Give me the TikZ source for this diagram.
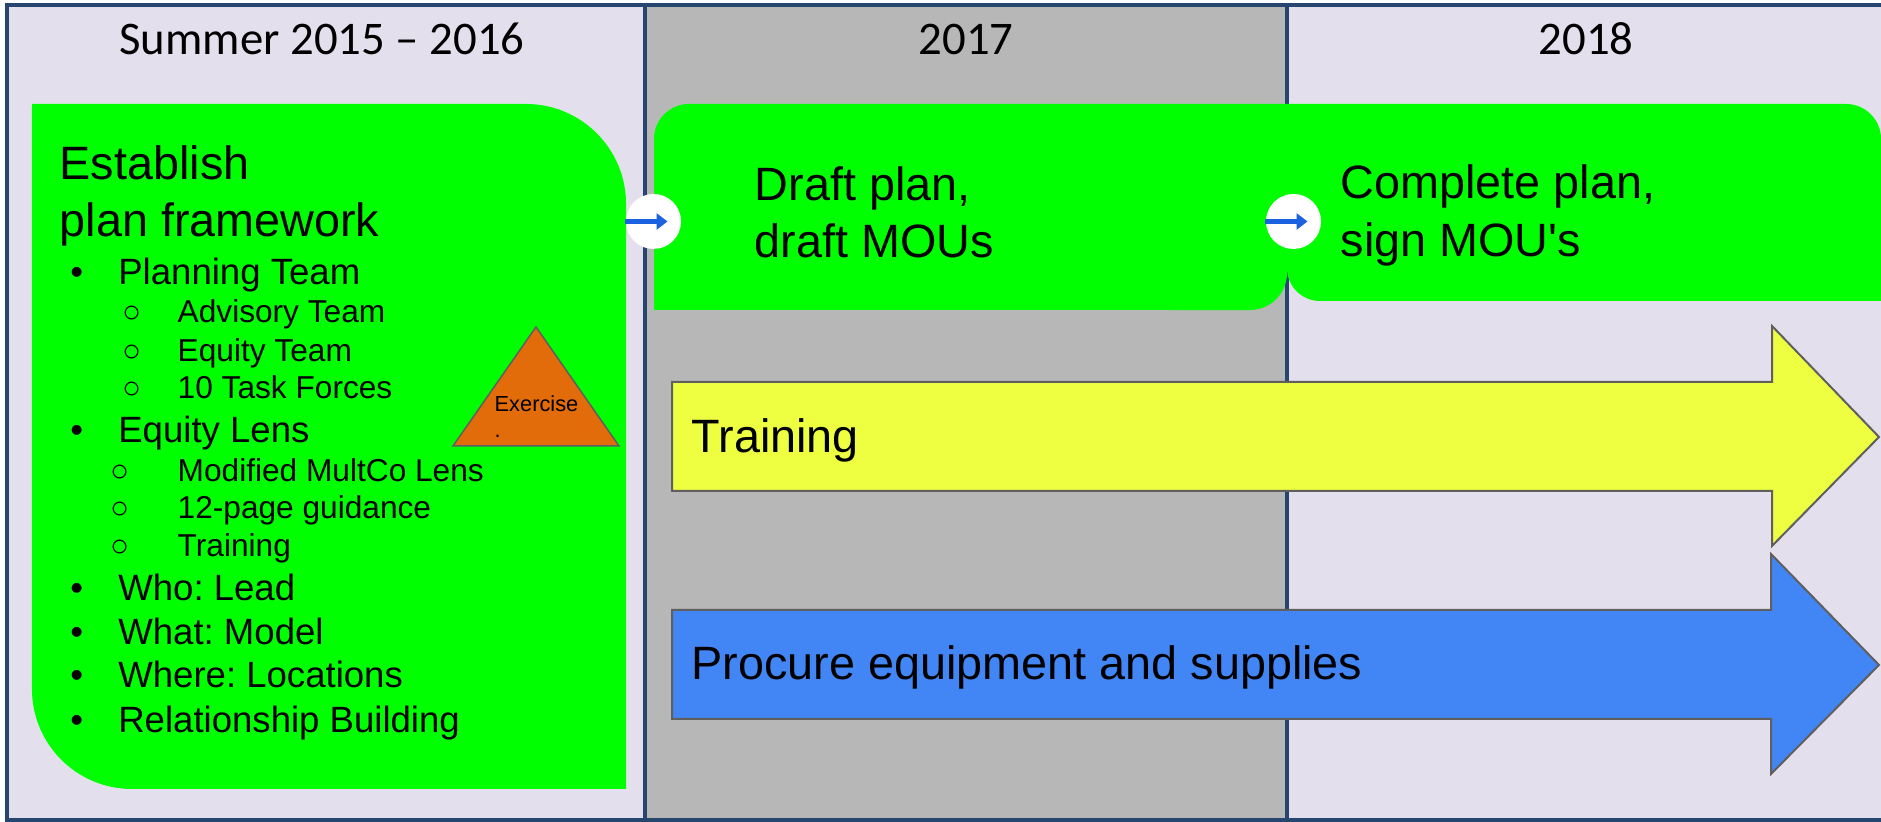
\documentclass[tikz,border=0pt]{standalone}
\usepackage{fontspec}
\setmainfont{Liberation Sans}
\newfontfamily\hdfont{Carlito}
\usepackage{xcolor}
\usepackage{tikz}
\usetikzlibrary{arrows.meta, positioning, calc}
\frenchspacing

\definecolor{lavbg}{HTML}{E4DFEC}
\definecolor{greybg}{HTML}{B7B7B7}
\definecolor{framenavy}{HTML}{264670}
\definecolor{stepgreen}{HTML}{00FF00}
\definecolor{trainyellow}{HTML}{EDFF40}
\definecolor{procblue}{HTML}{4285F4}
\definecolor{exorange}{HTML}{E36C0A}
\definecolor{edgegrey}{HTML}{5F5F5F}
\definecolor{linkblue}{HTML}{1A62DF}

\begin{document}
\begin{tikzpicture}[x=0.01cm, y=0.01cm,
    hdtxt/.style={font=\hdfont\fontsize{13.3}{16}\selectfont, anchor=base, inner sep=0},
    bigtxt/.style={font=\fontsize{13.3}{16}\selectfont, anchor=base west, inner sep=0},
    itemtxt/.style={font=\fontsize{10.4}{12}\selectfont, anchor=base west, inner sep=0,
        execute at begin node={\makebox[0.48cm][l]{•}}},
    subtxt/.style={font=\fontsize{9}{11}\selectfont, anchor=base west, inner sep=0,
        execute at begin node={\makebox[#1][l]{○}}},
    frameline/.style={draw=framenavy, line width=0.04cm},
    bigarrow/.style={draw=edgegrey, line width=0.02cm},
    joint/.style={circle, fill=white, minimum size=0.55cm, inner sep=0}]

        \useasboundingbox (0,0) rectangle (1881,822);
        \fill[white] (0,0) rectangle (1881,822);

        % Columns
        \fill[lavbg] (7,2) rectangle (645,817);
        \fill[greybg] (645,2) rectangle (1287,817);
        \fill[lavbg] (1287,2) rectangle (1881,817);
        \draw[frameline] (1881,817) -- (7,817) -- (7,2) -- (1881,2);
        \draw[frameline] (645,2) -- (645,817);
        \draw[frameline] (1287,2) -- (1287,817);

        \node[hdtxt] (hdsummer) at (322,767) {Summer 2015 – 2016};
        \node[hdtxt] (hdseventeen) at (966,767) {2017};
        \node[hdtxt] (hdeighteen) at (1586,767) {2018};

        % Plan stages
        \fill[stepgreen] (32,718) -- (526,718) arc[start angle=90, end angle=0, radius=1cm]
            -- (626,33) -- (132,33) arc[start angle=270, end angle=180, radius=1cm] -- cycle;
        \fill[stepgreen] (654,512) -- (654,683) arc[start angle=180, end angle=90, radius=0.35cm]
            -- (1287,718) -- (1287,549) arc[start angle=0, end angle=-90, radius=0.37cm] -- cycle;
        \fill[stepgreen] (1287,554) -- (1287,718) -- (1846,718) arc[start angle=90, end angle=0, radius=0.35cm]
            -- (1881,521) -- (1320,521) arc[start angle=270, end angle=180, radius=0.33cm] -- cycle;

        \node[bigtxt] (establish) at (59,642) {Establish};
        \node[bigtxt] (framework) at (59,585) {plan framework};
        \node[itemtxt] (planning) at (69.6,537) {Planning Team};
        \node[subtxt=0.555cm] (advisory) at (121.5,499) {Advisory Team};
        \node[subtxt=0.555cm] (equityteam) at (121.5,460) {Equity Team};
        \node[subtxt=0.555cm] (taskforces) at (121.5,423) {10 Task Forces};
        \node[itemtxt] (equitylens) at (69.6,379) {Equity Lens};
        \node[subtxt=0.675cm] (multco) at (109.5,340) {Modified MultCo Lens};
        \node[subtxt=0.675cm] (guidance) at (109.5,303) {12-page guidance};
        \node[subtxt=0.675cm] (lenstraining) at (109.5,265) {Training};
        \node[itemtxt] (who) at (69.6,221) {Who: Lead};
        \node[itemtxt] (what) at (69.6,177) {What: Model};
        \node[itemtxt] (where) at (69.6,134) {Where: Locations};
        \node[itemtxt] (relation) at (69.6,89) {Relationship Building};

        % Exercise marker
        \draw[fill=exorange, draw=edgegrey, line width=0.015cm] (453,376) -- (536,495) -- (619,376) -- cycle;
        \node[font=\fontsize{6.2}{7.4}\selectfont, align=left, anchor=north west, inner sep=0] (exercise) at (494,427) {Exercise\\.};

        \node[bigtxt] (draftplan) at (754,621) {Draft plan,};
        \node[bigtxt] (draftmou) at (754,564) {draft MOUs};
        \node[bigtxt] (completeplan) at (1340,623) {Complete plan,};
        \node[bigtxt] (signmou) at (1340,565) {sign MOU\textquotesingle s};

        % Links between stages
        \node[joint] (linkA) at (653.5,600.5) {};
        \node[joint] (linkB) at (1293.5,600.5) {};
        \draw[linkblue, line width=0.05cm, -{Triangle[length=0.11cm, width=0.16cm]}] (linkA.west) -- ([xshift=0.14cm]linkA.center);
        \draw[linkblue, line width=0.05cm, -{Triangle[length=0.11cm, width=0.16cm]}] (linkB.west) -- ([xshift=0.14cm]linkB.center);

        % Ongoing work
        \draw[bigarrow, fill=trainyellow] (672,331) -- (672,440) -- (1772,440) -- (1772,496)
            -- (1879,385) -- (1772,276) -- (1772,331) -- cycle;
        \draw[bigarrow, fill=procblue] (672,103) -- (672,212) -- (1771,212) -- (1771,268)
            -- (1879,157) -- (1771,48) -- (1771,103) -- cycle;
        \node[bigtxt] (training) at (691,369) {Training};
        \node[bigtxt] (procure) at (691,142) {Procure equipment and supplies};

    \end{tikzpicture}
\end{document}
